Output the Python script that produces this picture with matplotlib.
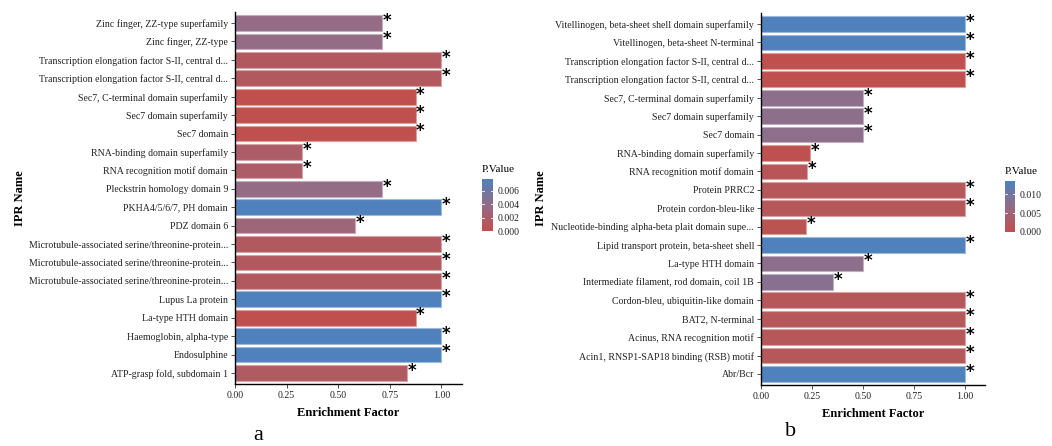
import matplotlib
matplotlib.use("Agg")
import matplotlib.pyplot as plt
import numpy as np
from matplotlib.colors import LinearSegmentedColormap, Normalize

plt.rcParams["font.family"] = ["Liberation Serif", "DejaVu Serif"]

# panel a, listed top to bottom
names_a = [
    "Zinc finger, ZZ-type superfamily",
    "Zinc finger, ZZ-type",
    "Transcription elongation factor S-II, central d...",
    "Transcription elongation factor S-II, central d...",
    "Sec7, C-terminal domain superfamily",
    "Sec7 domain superfamily",
    "Sec7 domain",
    "RNA-binding domain superfamily",
    "RNA recognition motif domain",
    "Pleckstrin homology domain 9",
    "PKHA4/5/6/7, PH domain",
    "PDZ domain 6",
    "Microtubule-associated serine/threonine-protein...",
    "Microtubule-associated serine/threonine-protein...",
    "Microtubule-associated serine/threonine-protein...",
    "Lupus La protein",
    "La-type HTH domain",
    "Haemoglobin, alpha-type",
    "Endosulphine",
    "ATP-grasp fold, subdomain 1",
]
enrich_a = [0.714, 0.714, 1.0, 1.0, 0.875, 0.875, 0.875, 0.325, 0.325, 0.714,
            1.0, 0.583, 1.0, 1.0, 1.0, 1.0, 0.875, 1.0, 1.0, 0.833]
pval_a = [0.0039, 0.0039, 0.0013, 0.0013, 0.00001, 0.00001, 0.00001, 0.0018, 0.0018, 0.0039,
          0.0078, 0.0030, 0.0013, 0.0013, 0.0013, 0.0078, 0.00001, 0.0078, 0.0078, 0.0014]
ticks_a = [0.000, 0.002, 0.004, 0.006]

# panel b, listed top to bottom
names_b = [
    "Vitellinogen, beta-sheet shell domain superfamily",
    "Vitellinogen, beta-sheet N-terminal",
    "Transcription elongation factor S-II, central d...",
    "Transcription elongation factor S-II, central d...",
    "Sec7, C-terminal domain superfamily",
    "Sec7 domain superfamily",
    "Sec7 domain",
    "RNA-binding domain superfamily",
    "RNA recognition motif domain",
    "Protein PRRC2",
    "Protein cordon-bleu-like",
    "Nucleotide-binding alpha-beta plait domain supe...",
    "Lipid transport protein, beta-sheet shell",
    "La-type HTH domain",
    "Intermediate filament, rod domain, coil 1B",
    "Cordon-bleu, ubiquitin-like domain",
    "BAT2, N-terminal",
    "Acinus, RNA recognition motif",
    "Acin1, RNSP1-SAP18 binding (RSB) motif",
    "Abr/Bcr",
]
enrich_b = [1.0, 1.0, 1.0, 1.0, 0.5, 0.5, 0.5, 0.24, 0.227, 1.0,
            1.0, 0.219, 1.0, 0.5, 0.355, 1.0, 1.0, 1.0, 1.0, 1.0]
pval_b = [0.0135, 0.0135, 0.00002, 0.00002, 0.0074, 0.0074, 0.0074, 0.0003, 0.0013, 0.0016,
          0.0016, 0.0008, 0.0135, 0.0074, 0.0080, 0.0016, 0.0016, 0.0016, 0.0016, 0.0135]
ticks_b = [0.000, 0.005, 0.010]

low, mid, high = "#C0504D", "#946C86", "#4F81BD"
cmap = LinearSegmentedColormap.from_list("pv", [low, mid, high])

W, H = 1052, 446
fig = plt.figure(figsize=(W / 100, H / 100), dpi=100)


def px_axes(x0, y0, x1, y1):
    return fig.add_axes([x0 / W, 1 - y1 / H, (x1 - x0) / W, (y1 - y0) / H])


def panel(box, cbox, names, enrich, pval, cticks, letter, letter_xy, ylab_x):
    ax = px_axes(*box)
    norm = Normalize(vmin=min(pval), vmax=max(pval))
    n = len(names)
    y = np.arange(n)[::-1]
    for yi, v, p in zip(y, enrich, pval):
        fc = np.array(cmap(norm(p))[:3])
        ec = fc + (1 - fc) * 0.45
        ax.barh(yi, v, height=0.85, color=fc, edgecolor=ec, linewidth=0.8)
        ax.text(v + 0.003, yi + 0.12, "*", fontsize=12, fontweight="bold",
                family="DejaVu Sans", ha="left", va="center", color="black")
    ax.set_ylim(-0.6, n - 0.4)
    ax.set_xlim(0, 1.1)
    ax.set_yticks(y)
    ax.set_yticklabels(names, fontsize=7.1, color="#222222")
    ax.set_xticks([0, 0.25, 0.5, 0.75, 1.0])
    ax.set_xticklabels(["0.00", "0.25", "0.50", "0.75", "1.00"], fontsize=7.1, color="#222222")
    ax.tick_params(length=3, width=0.6, color="#333333", pad=2)
    for s in ("top", "right"):
        ax.spines[s].set_visible(False)
    for s in ("left", "bottom"):
        ax.spines[s].set_linewidth(1.0)
    ax.set_xlabel("Enrichment Factor", fontsize=9, fontweight="bold", labelpad=5)
    fig.text(ylab_x / W, 1 - 198 / H, "IPR Name", rotation=90, fontsize=9,
             fontweight="bold", ha="center", va="center")
    fig.text(letter_xy[0] / W, 1 - letter_xy[1] / H, letter, fontsize=16,
             ha="center", va="center")

    # colour bar for p values
    cax = px_axes(*cbox)
    grad = np.linspace(norm.vmin, norm.vmax, 256).reshape(-1, 1)
    cax.imshow(grad, aspect="auto", origin="lower", cmap=cmap, norm=norm,
               extent=(0, 1, norm.vmin, norm.vmax))
    cax.set_xticks([])
    cax.yaxis.tick_right()
    cax.set_yticks(cticks)
    cax.set_yticklabels([f"{t:.3f}" for t in cticks], fontsize=7, color="#222222")
    cax.tick_params(axis="y", length=0, pad=3)
    for t in cticks:
        cax.plot([0, 0.2], [t, t], color="white", lw=0.6)
        cax.plot([0.8, 1], [t, t], color="white", lw=0.6)
    cax.set_xlim(0, 1)
    cax.set_ylim(0, norm.vmax)
    for s in cax.spines.values():
        s.set_visible(False)
    cax.set_title("P.Value", fontsize=8, loc="left", pad=5)


panel((235, 12, 462, 384), (482, 179, 493, 231), names_a, enrich_a, pval_a,
      ticks_a, "a", (258, 436), 20)
panel((761, 13, 985, 385), (1005, 181, 1015, 232), names_b, enrich_b, pval_b,
      ticks_b, "b", (791, 432), 541)

fig.savefig("out.png", dpi=100)
